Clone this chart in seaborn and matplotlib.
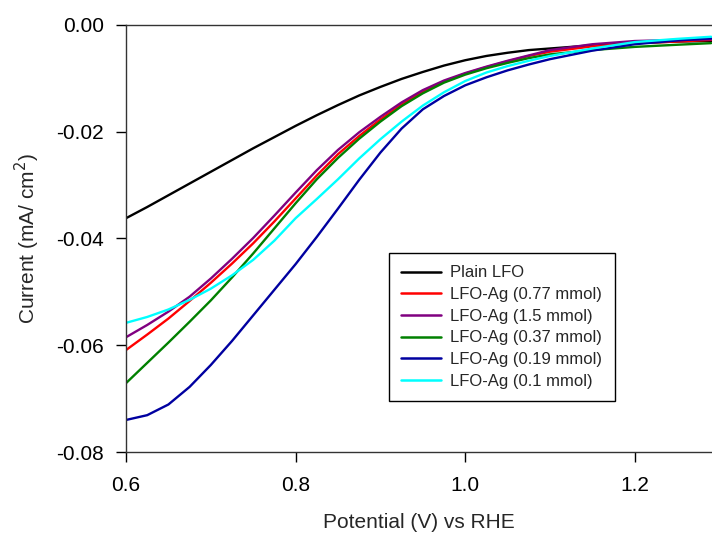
import matplotlib
matplotlib.use("Agg")
import matplotlib.pyplot as plt
import seaborn as sns
import pandas as pd

# Potential (V vs RHE) sample points
potential = [0.600, 0.625, 0.650, 0.675, 0.700, 0.725, 0.750, 0.775, 0.800, 0.825,
             0.850, 0.875, 0.900, 0.925, 0.950, 0.975, 1.000, 1.025, 1.050, 1.075,
             1.100, 1.150, 1.200, 1.250, 1.290]

# Current (mA/cm2)
plain_lfo = [-0.0362, -0.0341, -0.0319, -0.0297, -0.0275, -0.0253, -0.0231, -0.0210, -0.0189, -0.0169,
             -0.0150, -0.0132, -0.0116, -0.0101, -0.0088, -0.0076, -0.0066, -0.0058, -0.0052, -0.0047,
             -0.0044, -0.0038, -0.0034, -0.0031, -0.0030]
ag_077 = [-0.0609, -0.0580, -0.0550, -0.0517, -0.0483, -0.0447, -0.0409, -0.0368, -0.0325, -0.0282,
          -0.0242, -0.0208, -0.0177, -0.0149, -0.0125, -0.0106, -0.0091, -0.0079, -0.0068, -0.0058,
          -0.0050, -0.0040, -0.0034, -0.0031, -0.0028]
ag_15 = [-0.0585, -0.0562, -0.0537, -0.0509, -0.0475, -0.0438, -0.0399, -0.0357, -0.0314, -0.0272,
         -0.0234, -0.0201, -0.0172, -0.0145, -0.0122, -0.0104, -0.0090, -0.0078, -0.0067, -0.0057,
         -0.0047, -0.0036, -0.0030, -0.0028, -0.0027]
ag_037 = [-0.0671, -0.0633, -0.0595, -0.0556, -0.0516, -0.0473, -0.0428, -0.0381, -0.0334, -0.0289,
          -0.0249, -0.0213, -0.0181, -0.0152, -0.0128, -0.0108, -0.0093, -0.0081, -0.0071, -0.0062,
          -0.0055, -0.0047, -0.0041, -0.0037, -0.0034]
ag_019 = [-0.0740, -0.0731, -0.0711, -0.0678, -0.0637, -0.0592, -0.0544, -0.0496, -0.0448, -0.0397,
          -0.0344, -0.0290, -0.0239, -0.0194, -0.0158, -0.0133, -0.0113, -0.0098, -0.0085, -0.0074,
          -0.0064, -0.0048, -0.0036, -0.0029, -0.0025]
ag_01 = [-0.0558, -0.0547, -0.0533, -0.0515, -0.0494, -0.0469, -0.0440, -0.0404, -0.0362, -0.0326,
         -0.0289, -0.0250, -0.0214, -0.0181, -0.0151, -0.0126, -0.0105, -0.0089, -0.0077, -0.0067,
         -0.0058, -0.0044, -0.0032, -0.0026, -0.0022]

labels = ["Plain LFO", "LFO-Ag (0.77 mmol)", "LFO-Ag (1.5 mmol)",
          "LFO-Ag (0.37 mmol)", "LFO-Ag (0.19 mmol)", "LFO-Ag (0.1 mmol)"]
series = [plain_lfo, ag_077, ag_15, ag_037, ag_019, ag_01]
colors = ["#000000", "#ff0000", "#800080", "#008000", "#0000a0", "#00ffff"]

x_ticks = [0.6, 0.8, 1.0, 1.2]
y_ticks = [-0.08, -0.06, -0.04, -0.02, 0.00]

frames = []
for lab, vals in zip(labels, series):
    frames.append(pd.DataFrame({"Potential": potential, "Current": vals, "Sample": lab}))
df = pd.concat(frames, ignore_index=True)

sns.set_style("ticks")
plt.rcParams['font.family'] = ['Liberation Sans', 'DejaVu Sans']

fig = plt.figure(figsize=(7.12, 5.36), dpi=100)
ax = fig.add_axes([126/712, 1 - 452/536, 1 - 126/712, (452 - 25)/536])

sns.lineplot(data=df, x="Potential", y="Current", hue="Sample",
             hue_order=labels, palette=colors, linewidth=1.7, ax=ax,
             sort=False, estimator=None)

ax.set_xlim(0.6, 1.291)
ax.set_ylim(-0.08, 0.0)
ax.set_xticks(x_ticks)
ax.set_xticklabels([f"{t:.1f}" for t in x_ticks])
ax.set_yticks(y_ticks)
ax.set_yticklabels([f"{t:.2f}" for t in y_ticks])
ax.tick_params(axis="both", direction="out", length=7, width=1.0,
               labelsize=15, colors="#000000")
ax.tick_params(axis="x", pad=10)
ax.tick_params(axis="y", pad=9)

for side in ["left", "bottom", "top"]:
    ax.spines[side].set_color("#333333")
    ax.spines[side].set_linewidth(1.0)
ax.spines["right"].set_visible(False)

ax.set_xlabel("Potential (V) vs RHE", fontsize=15, labelpad=13)
ax.set_ylabel("Current (mA/ cm$^2$)", fontsize=15, labelpad=10)

leg = ax.legend(loc="lower left", bbox_to_anchor=(0.448, 0.119), borderaxespad=0,
                fontsize=12, frameon=True, fancybox=False, framealpha=1,
                edgecolor="#000000", handlelength=2.4, handletextpad=0.55,
                labelspacing=0.4, borderpad=0.75, title=None)
leg.get_frame().set_linewidth(1.0)
for line in leg.get_lines():
    line.set_linewidth(1.8)

fig.savefig("out.png", dpi=100)
